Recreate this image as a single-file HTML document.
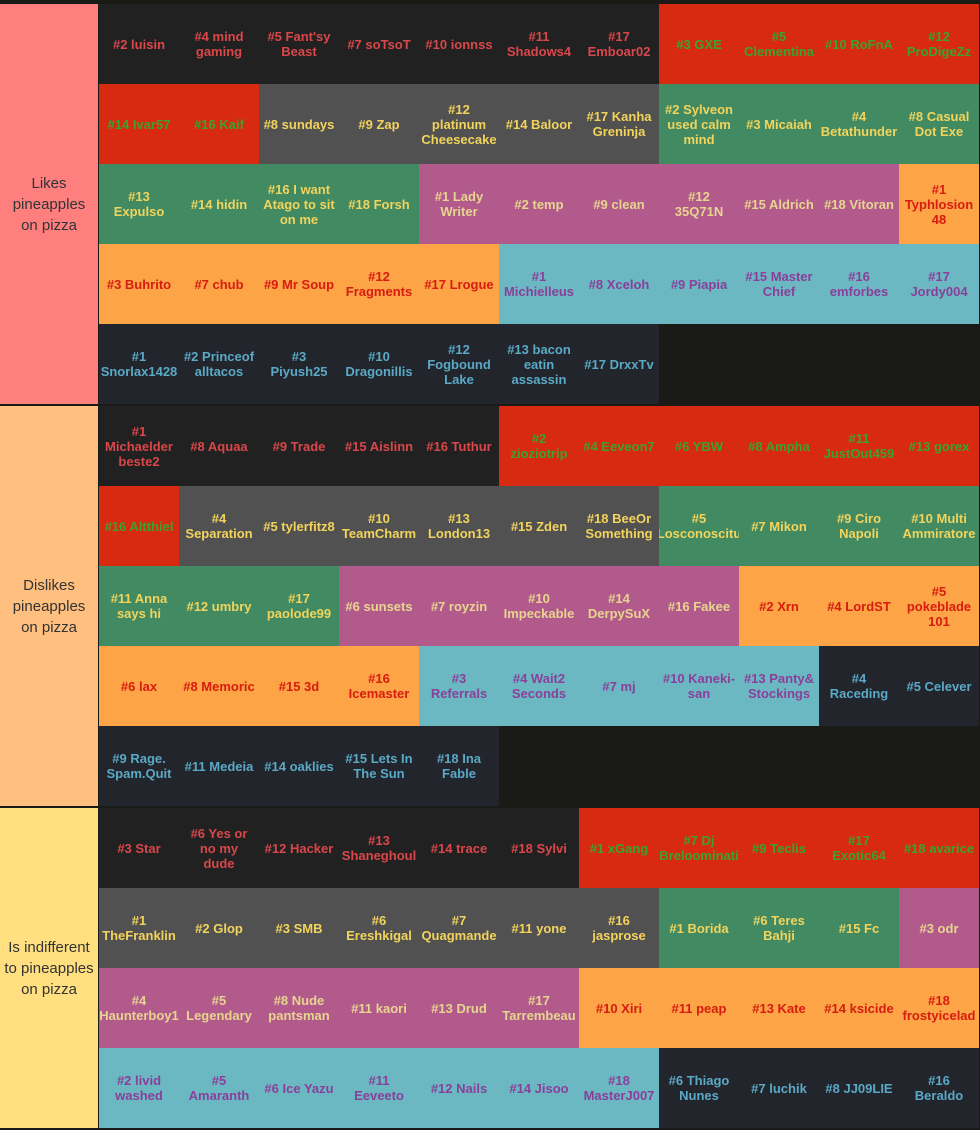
<!DOCTYPE html>
<html><head><meta charset="utf-8"><style>
*{margin:0;padding:0;box-sizing:border-box}
body{width:980px;height:1130px;background:#1a1a17;position:relative;overflow:hidden;font-family:"Liberation Sans",sans-serif}
.tier{position:absolute;left:0;width:980px}
.lab{position:absolute;left:0;top:0;width:98px;height:100%;display:flex;align-items:center;justify-content:center;text-align:center;font-size:15px;line-height:21px;color:#333}
.cells{position:absolute;left:99px;top:0;width:880px;display:flex;flex-wrap:wrap}
.c{width:80px;height:80px;display:flex;align-items:center;justify-content:center;text-align:center;font-weight:bold;font-size:13px;line-height:15px;overflow:hidden;white-space:nowrap}
.K{background:#212121;color:#d9474a}
.R{background:#d72a10;color:#3aa32f}
.G{background:#525152;color:#f2d45c}
.N{background:#418a62;color:#f2d45c}
.P{background:#b35a8c;color:#e6d58f}
.O{background:#fda447;color:#d71c10}
.T{background:#6bb8c3;color:#8a3f9a}
.D{background:#22252b;color:#5aa9c6}
</style></head><body>

<div class="tier" style="top:4px;height:400px">
<div class="lab" style="background:#ff7f7f">Likes<br>pineapples<br>on pizza</div>
<div class="cells">
<div class="c K">#2 luisin</div><div class="c K">#4 mind<br>gaming</div><div class="c K">#5 Fant'sy<br>Beast</div><div class="c K">#7 soTsoT</div><div class="c K">#10 ionnss</div><div class="c K">#11<br>Shadows4</div><div class="c K">#17<br>Emboar02</div><div class="c R">#3 GXE</div><div class="c R">#5<br>Clementina</div><div class="c R">#10 RoFnA</div><div class="c R">#12<br>ProDigeZz</div>
<div class="c R">#14 Ivar57</div><div class="c R">#16 Kaif</div><div class="c G">#8 sundays</div><div class="c G">#9 Zap</div><div class="c G">#12<br>platinum<br>Cheesecake</div><div class="c G">#14 Baloor</div><div class="c G">#17 Kanha<br>Greninja</div><div class="c N">#2 Sylveon<br>used calm<br>mind</div><div class="c N">#3 Micaiah</div><div class="c N">#4<br>Betathunder</div><div class="c N">#8 Casual<br>Dot Exe</div>
<div class="c N">#13<br>Expulso</div><div class="c N">#14 hidin</div><div class="c N">#16 I want<br>Atago to sit<br>on me</div><div class="c N">#18 Forsh</div><div class="c P">#1 Lady<br>Writer</div><div class="c P">#2 temp</div><div class="c P">#9 clean</div><div class="c P">#12<br>35Q71N</div><div class="c P">#15 Aldrich</div><div class="c P">#18 Vitoran</div><div class="c O">#1<br>Typhlosion<br>48</div>
<div class="c O">#3 Buhrito</div><div class="c O">#7 chub</div><div class="c O">#9 Mr Soup</div><div class="c O">#12<br>Fragments</div><div class="c O">#17 Lrogue</div><div class="c T">#1<br>Michielleus</div><div class="c T">#8 Xceloh</div><div class="c T">#9 Piapia</div><div class="c T">#15 Master<br>Chief</div><div class="c T">#16<br>emforbes</div><div class="c T">#17<br>Jordy004</div>
<div class="c D">#1<br>Snorlax1428</div><div class="c D">#2 Princeof<br>alltacos</div><div class="c D">#3<br>Piyush25</div><div class="c D">#10<br>Dragonillis</div><div class="c D">#12<br>Fogbound<br>Lake</div><div class="c D">#13 bacon<br>eatin<br>assassin</div><div class="c D">#17 DrxxTv</div>
</div></div>

<div class="tier" style="top:406px;height:400px">
<div class="lab" style="background:#ffbf7f">Dislikes<br>pineapples<br>on pizza</div>
<div class="cells">
<div class="c K">#1<br>Michaelder<br>beste2</div><div class="c K">#8 Aquaa</div><div class="c K">#9 Trade</div><div class="c K">#15 Aislinn</div><div class="c K">#16 Tuthur</div><div class="c R">#2<br>zioziotrip</div><div class="c R">#4 Eeveon7</div><div class="c R">#6 YBW</div><div class="c R">#8 Ampha</div><div class="c R">#11<br>JustOut459</div><div class="c R">#13 gorex</div>
<div class="c R">#16 Altthiel</div><div class="c G">#4<br>Separation</div><div class="c G">#5 tylerfitz8</div><div class="c G">#10<br>TeamCharm</div><div class="c G">#13<br>London13</div><div class="c G">#15 Zden</div><div class="c G">#18 BeeOr<br>Something</div><div class="c N">#5<br>Losconoscitu</div><div class="c N">#7 Mikon</div><div class="c N">#9 Ciro<br>Napoli</div><div class="c N">#10 Multi<br>Ammiratore</div>
<div class="c N">#11 Anna<br>says hi</div><div class="c N">#12 umbry</div><div class="c N">#17<br>paolode99</div><div class="c P">#6 sunsets</div><div class="c P">#7 royzin</div><div class="c P">#10<br>Impeckable</div><div class="c P">#14<br>DerpySuX</div><div class="c P">#16 Fakee</div><div class="c O">#2 Xrn</div><div class="c O">#4 LordST</div><div class="c O">#5<br>pokeblade<br>101</div>
<div class="c O">#6 lax</div><div class="c O">#8 Memoric</div><div class="c O">#15 3d</div><div class="c O">#16<br>Icemaster</div><div class="c T">#3<br>Referrals</div><div class="c T">#4 Wait2<br>Seconds</div><div class="c T">#7 mj</div><div class="c T">#10 Kaneki-<br>san</div><div class="c T">#13 Panty&amp;<br>Stockings</div><div class="c D">#4<br>Raceding</div><div class="c D">#5 Celever</div>
<div class="c D">#9 Rage.<br>Spam.Quit</div><div class="c D">#11 Medeia</div><div class="c D">#14 oaklies</div><div class="c D">#15 Lets In<br>The Sun</div><div class="c D">#18 Ina<br>Fable</div>
</div></div>

<div class="tier" style="top:808px;height:320px">
<div class="lab" style="background:#ffdf7f">Is indifferent<br>to pineapples<br>on pizza</div>
<div class="cells">
<div class="c K">#3 Star</div><div class="c K">#6 Yes or<br>no my<br>dude</div><div class="c K">#12 Hacker</div><div class="c K">#13<br>Shaneghoul</div><div class="c K">#14 trace</div><div class="c K">#18 Sylvi</div><div class="c R">#1 xGang</div><div class="c R">#7 Dj<br>Breloominati</div><div class="c R">#9 Teclis</div><div class="c R">#17<br>Exotic64</div><div class="c R">#18 avarice</div>
<div class="c G">#1<br>TheFranklin</div><div class="c G">#2 Glop</div><div class="c G">#3 SMB</div><div class="c G">#6<br>Ereshkigal</div><div class="c G">#7<br>Quagmande</div><div class="c G">#11 yone</div><div class="c G">#16<br>jasprose</div><div class="c N">#1 Borida</div><div class="c N">#6 Teres<br>Bahji</div><div class="c N">#15 Fc</div><div class="c P">#3 odr</div>
<div class="c P">#4<br>Haunterboy1</div><div class="c P">#5<br>Legendary</div><div class="c P">#8 Nude<br>pantsman</div><div class="c P">#11 kaori</div><div class="c P">#13 Drud</div><div class="c P">#17<br>Tarrembeau</div><div class="c O">#10 Xiri</div><div class="c O">#11 peap</div><div class="c O">#13 Kate</div><div class="c O">#14 ksicide</div><div class="c O">#18<br>frostyicelad</div>
<div class="c T">#2 livid<br>washed</div><div class="c T">#5<br>Amaranth</div><div class="c T">#6 Ice Yazu</div><div class="c T">#11<br>Eeveeto</div><div class="c T">#12 Nails</div><div class="c T">#14 Jisoo</div><div class="c T">#18<br>MasterJ007</div><div class="c D">#6 Thiago<br>Nunes</div><div class="c D">#7 luchik</div><div class="c D">#8 JJ09LIE</div><div class="c D">#16<br>Beraldo</div>
</div></div>

</body></html>
